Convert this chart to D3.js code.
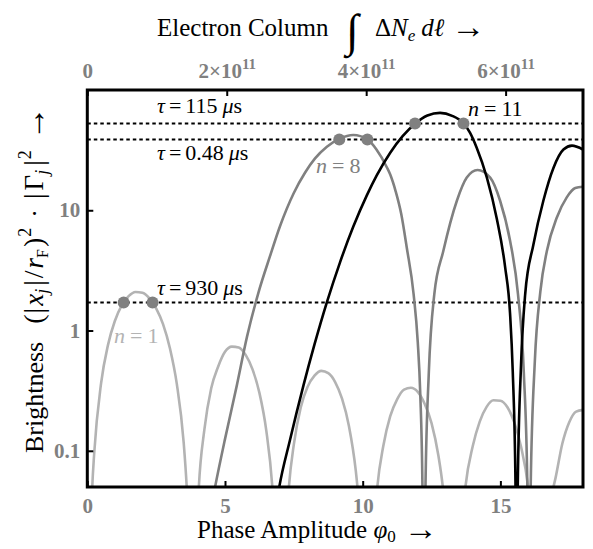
<!DOCTYPE html>
<html>
<head>
<meta charset="utf-8">
<script src="https://cdn.jsdelivr.net/npm/d3@7"></script>
<style>
  body { margin: 0; background: #fff; }
  svg text { font-family: "Liberation Serif", "Times New Roman", serif; }
</style>
</head>
<body>
<svg id="chart" width="593" height="549"></svg>
<script>
// tick values
const phiTicks = [0, 5, 10, 15];
const brightTicks = [0.1, 1, 10];
const columnTicks = [0, 2e11, 4e11, 6e11];
const columnPerPhi = 3.95e10;   // electron column per unit of phase amplitude

// brightness curves, [phi0, brightness]
const curveN1 = [[0.05,0.004],[0.18,0.05],[0.25,0.095],[0.5,0.364],[0.75,0.756],[1.0,1.20],[1.25,1.62],[1.5,1.93],[1.75,2.09],[2.0,2.06],[2.25,1.86],[2.5,1.53],[2.75,1.13],[3.0,0.713],[3.25,0.36],[3.5,0.117],[3.61,0.05],[3.83,0.002],[4.05,0.05],[4.25,0.149],[4.5,0.331],[4.75,0.50],[5.0,0.665],[5.25,0.735],[5.5,0.723],[5.75,0.627],[6.0,0.475],[6.25,0.303],[6.5,0.147],[6.72,0.05],[7.02,0.002],[7.32,0.05],[7.5,0.113],[7.75,0.229],[8.0,0.341],[8.25,0.422],[8.5,0.462],[8.75,0.442],[9.0,0.373],[9.25,0.271],[9.5,0.161],[9.75,0.068],[9.81,0.05],[10.17,0.002],[10.53,0.05],[10.75,0.11],[11.0,0.194],[11.25,0.268],[11.5,0.323],[11.75,0.334],[12.0,0.309],[12.25,0.246],[12.5,0.17],[12.75,0.091],[12.91,0.05],[13.32,0.002],[13.73,0.05],[14.0,0.11],[14.25,0.175],[14.5,0.232],[14.75,0.263],[15.0,0.261],[15.25,0.231],[15.5,0.173],[15.75,0.108],[16.01,0.05],[16.47,0.002],[16.93,0.05],[17.0,0.059],[17.25,0.115],[17.5,0.173],[17.75,0.212],[18.0,0.219]];
const curveN8 = [[4.3,0.02],[4.5,0.034],[4.64,0.05],[5.0,0.125],[5.43,0.35],[5.8,0.89],[6.21,2.05],[6.64,4.19],[7.0,7.4],[7.49,13.8],[7.91,20.6],[8.27,27],[8.7,33.8],[9.15,39.2],[9.66,42.2],[10.17,38.8],[10.5,32],[10.88,22.7],[11.0,19.8],[11.2,14.3],[11.4,9.3],[11.6,4.9],[11.85,2.0],[12.0,0.8],[12.09,0.3],[12.17,0.05],[12.225,0.002],[12.28,0.05],[12.4,0.44],[12.6,2.0],[12.93,4.6],[13.42,12.0],[13.78,18.7],[14.17,21.6],[14.63,18.7],[14.99,12.0],[15.35,5.6],[15.64,2.0],[15.85,0.45],[15.98,0.05],[16.04,0.002],[16.1,0.05],[16.25,0.55],[16.45,2.1],[16.69,4.6],[17.05,8.7],[17.41,12.8],[17.72,15.3],[18.0,15.7]];
const curveN11 = [[6.7,0.02],[6.97,0.05],[7.36,0.123],[7.85,0.35],[8.25,0.766],[8.69,1.69],[9.18,3.71],[9.66,7.32],[10.15,13.3],[10.51,19.5],[11.0,30.1],[11.45,41.3],[11.9,52.5],[12.35,61.4],[12.81,64.5],[13.25,61],[13.66,52.7],[13.9,44],[14.14,33.1],[14.51,18.7],[14.87,8.5],[15.17,3.4],[15.35,1.4],[15.45,0.45],[15.55,0.05],[15.59,0.002],[15.63,0.05],[15.75,0.52],[15.9,2.0],[16.2,5.2],[16.56,12],[16.93,22.6],[17.29,32],[17.6,34.5],[18.0,32]];

// dwell-time levels and their crossings
const tauLevels = [52.7, 38.8, 1.71];
const tauNames = ["115", "0.48", "930"];
const markersN1 = [1.32, 2.37];
const markersN8 = [9.15, 10.17];
const markersN11 = [11.9, 13.66];

const svg = d3.select("#chart");
const padLeft = 87.3, padRight = 583, plotTop = 90, plotBottom = 487;

const x = d3.scaleLinear().domain([0, 18]).range([padLeft, padRight]);
const xTop = d3.scaleLinear().domain([0, 18 * columnPerPhi]).range([padLeft, padRight]);
const y = d3.scaleLog().domain([0.05, 100]).range([plotBottom, plotTop]);

const grayLight = "#b3b3b3", grayMid = "#808080";

svg.append("clipPath").attr("id", "plotClip")
  .append("rect").attr("x", padLeft).attr("y", plotTop)
  .attr("width", padRight - padLeft).attr("height", plotBottom - plotTop);

const plot = svg.append("g").attr("clip-path", "url(#plotClip)");

const line = d3.line()
  .x(d => x(d[0]))
  .y(d => y(d[1]))
  .curve(d3.curveMonotoneX);

// dashed tau lines
plot.selectAll("line.tau")
  .data(tauLevels)
  .enter().append("line")
  .attr("class", "tau")
  .attr("x1", padLeft).attr("x2", padRight)
  .attr("y1", d => y(d)).attr("y2", d => y(d))
  .attr("stroke", "#000")
  .attr("stroke-width", 2)
  .attr("stroke-dasharray", "3.5,3");

const series = [
  { data: curveN1, color: grayLight },
  { data: curveN8, color: grayMid },
  { data: curveN11, color: "#000" }
];

plot.selectAll("path.curve")
  .data(series)
  .enter().append("path")
  .attr("class", "curve")
  .attr("d", d => line(d.data))
  .attr("fill", "none")
  .attr("stroke", d => d.color)
  .attr("stroke-width", 2.6);

const markers = [
  ...markersN1.map(p => [p, tauLevels[2]]),
  ...markersN8.map(p => [p, tauLevels[1]]),
  ...markersN11.map(p => [p, tauLevels[0]])
];
svg.selectAll("circle.mark")
  .data(markers)
  .enter().append("circle")
  .attr("class", "mark")
  .attr("cx", d => x(d[0]))
  .attr("cy", d => y(d[1]))
  .attr("r", 6)
  .attr("fill", grayMid);

// axes: ticks point inward
function styleAxis(g) {
  g.select(".domain").remove();
  g.selectAll(".tick line").attr("stroke", "#000").attr("stroke-width", 2);
  g.selectAll(".tick text")
    .attr("fill", grayMid)
    .attr("font-weight", "bold")
    .attr("font-size", 21)
    .style("font-family", "'Liberation Serif', serif");
}

svg.append("g")
  .attr("transform", `translate(0,${plotBottom})`)
  .call(d3.axisBottom(x).tickValues(phiTicks).tickSizeInner(-6).tickSizeOuter(0).tickPadding(11))
  .call(styleAxis);

svg.append("g")
  .attr("transform", `translate(${padLeft},0)`)
  .call(d3.axisLeft(y).tickValues(brightTicks).tickFormat(d3.format("~g")).tickSizeInner(-6).tickSizeOuter(0).tickPadding(7))
  .call(styleAxis);

const topAxis = svg.append("g")
  .attr("transform", `translate(0,${plotTop})`)
  .call(d3.axisTop(xTop).tickValues(columnTicks).tickSizeInner(-6).tickSizeOuter(0).tickPadding(12))
  .call(styleAxis);

topAxis.selectAll(".tick text").each(function(d) {
  const t = d3.select(this);
  if (d === 0) return;
  const exp = Math.floor(Math.log10(d));
  const mant = Math.round(d / Math.pow(10, exp));
  t.text(null);
  t.append("tspan").text(mant + "\u00d710");
  t.append("tspan").attr("dy", -9).attr("font-size", 15).text(exp);
});

// frame
svg.append("rect")
  .attr("x", padLeft).attr("y", plotTop)
  .attr("width", padRight - padLeft).attr("height", plotBottom - plotTop)
  .attr("fill", "none").attr("stroke", "#000").attr("stroke-width", 3);

// tau labels
const tauY = [113, 160, 295];
tauNames.forEach((name, i) => {
  const t = svg.append("text").attr("x", 157).attr("y", tauY[i]).attr("font-size", 22);
  t.append("tspan").attr("font-style", "italic").text("\u03c4");
  t.append("tspan").attr("dx", 4).text("=");
  t.append("tspan").attr("dx", 4).text(name);
  t.append("tspan").attr("dx", 5).attr("font-style", "italic").text("\u03bc");
  t.append("tspan").text("s");
});

// n labels
const nLabels = [
  { n: "1", x: 114, y: 343, color: grayLight },
  { n: "8", x: 316, y: 173, color: grayMid },
  { n: "11", x: 468, y: 116, color: "#000" }
];
nLabels.forEach(d => {
  const t = svg.append("text").attr("x", d.x).attr("y", d.y).attr("font-size", 22).attr("fill", d.color);
  t.append("tspan").attr("font-style", "italic").text("n");
  t.append("tspan").attr("dx", 5).text("=");
  t.append("tspan").attr("dx", 5).text(d.n);
});

// top title
const title = svg.append("text").attr("x", 157).attr("y", 36).attr("font-size", 25);
title.append("tspan").text("Electron Column");
svg.append("text").attr("x", 346).attr("y", 46).attr("font-size", 46).text("\u222b");
const title2 = svg.append("text").attr("x", 375).attr("y", 36).attr("font-size", 25);
title2.append("tspan").text("\u0394");
title2.append("tspan").attr("font-style", "italic").text("N");
title2.append("tspan").attr("font-style", "italic").attr("font-size", 17).attr("dy", 5).text("e");
title2.append("tspan").attr("font-style", "italic").attr("dy", -5).attr("dx", 6).text("d\u2113");
title2.append("tspan").attr("dx", 7).attr("dy", 2).attr("font-size", 34).text("\u2192");

// bottom title
const xt = svg.append("text").attr("x", 197).attr("y", 538).attr("font-size", 25);
xt.append("tspan").text("Phase Amplitude ");
xt.append("tspan").attr("font-style", "italic").text("\u03c6");
xt.append("tspan").attr("font-size", 17).attr("dy", 4).text("0");
xt.append("tspan").attr("dy", -2).attr("dx", 8).attr("font-size", 34).text("\u2192");

// left title
const yt = svg.append("text")
  .attr("transform", "translate(43,453) rotate(-90)")
  .attr("font-size", 26);
yt.append("tspan").text("Brightness");
yt.append("tspan").attr("dx", 18).attr("font-size", 28).text("(");
yt.append("tspan").attr("dx", 1).attr("font-size", 28).text("|");
yt.append("tspan").attr("dx", 2).attr("font-style", "italic").attr("font-size", 27).text("x");
yt.append("tspan").attr("font-style", "italic").attr("font-size", 18).attr("dy", 5).text("j");
yt.append("tspan").attr("dy", -5).attr("dx", 3).attr("font-size", 28).text("|");
yt.append("tspan").attr("dx", 2).attr("font-size", 28).text("/");
yt.append("tspan").attr("dx", 2).attr("font-style", "italic").attr("font-size", 27).text("r");
yt.append("tspan").attr("font-size", 16).attr("dy", 5).text("F");
yt.append("tspan").attr("dy", -5).attr("dx", 2).attr("font-size", 28).text(")");
yt.append("tspan").attr("dx", 1).attr("font-size", 18).attr("dy", -12).text("2");
yt.append("tspan").attr("dy", 12).attr("dx", 10).text("\u00b7");
yt.append("tspan").attr("dx", 10).attr("font-size", 28).text("|");
yt.append("tspan").attr("dx", 3).attr("font-size", 27).text("\u0393");
yt.append("tspan").attr("font-style", "italic").attr("font-size", 18).attr("dy", 5).text("j");
yt.append("tspan").attr("dy", -5).attr("dx", 4).attr("font-size", 28).text("|");
yt.append("tspan").attr("dx", 1).attr("font-size", 18).attr("dy", -12).text("2");
yt.append("tspan").attr("dy", 14).attr("dx", 10).attr("font-size", 34).text("\u2192");
</script>
</body>
</html>
